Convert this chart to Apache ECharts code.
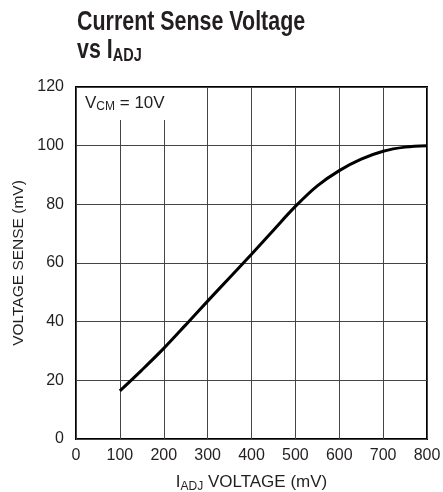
<!DOCTYPE html>
<html><head><meta charset="utf-8">
<script src="https://cdn.jsdelivr.net/npm/echarts@6/dist/echarts.min.js"></script>
<style>html,body{margin:0;padding:0;background:#fff}#c{width:443px;height:492px}</style>
</head><body><div id="c"></div>
<script>
const iadj = [100,150,200,250,300,350,400,450,500,550,600,650,700,750,800];
const vsense = [16.4,23.5,30.9,38.9,47.0,55.0,63.0,71.2,79.3,86.3,91.5,95.4,98.1,99.5,100];
const xTicks = [0,800,100];
const yTicks = [0,120,20];
const FF = '"Liberation Sans",Arial,sans-serif';
const INK = '#231f20';
const chart = echarts.init(document.getElementById('c'), null, {renderer:'canvas'});
chart.setOption({
  animation:false,
  backgroundColor:'#fff',
  grid:{left:76,right:16,top:87,bottom:53,show:true,borderColor:'#000',borderWidth:2,
        containLabel:false,outerBoundsMode:'none'},
  xAxis:{
    type:'value',min:xTicks[0],max:xTicks[1],interval:xTicks[2],
    axisLine:{show:false},axisTick:{show:false},
    splitLine:{lineStyle:{color:'#444',width:1}},
    axisLabel:{fontFamily:FF,fontSize:16,color:INK,margin:9},
    name:'{a|I}{s|ADJ}{a| VOLTAGE (mV)}',nameLocation:'middle',nameGap:33,
    nameTextStyle:{rich:{
      a:{fontFamily:FF,fontSize:17,color:INK},
      s:{fontFamily:FF,fontSize:12,color:INK,padding:[9,0,0,0]}
    }}
  },
  yAxis:{
    type:'value',min:yTicks[0],max:yTicks[1],interval:yTicks[2],
    axisLine:{show:false},axisTick:{show:false},
    splitLine:{lineStyle:{color:'#444',width:1}},
    axisLabel:{fontFamily:FF,fontSize:16,color:INK,margin:12},
    name:'VOLTAGE SENSE (mV)',nameLocation:'middle',nameGap:42,nameRotate:90,
    nameTextStyle:{fontFamily:FF,fontSize:15.5,color:INK}
  },
  graphic:[
    {
      type:'text',x:77,y:8,scaleX:0.765,scaleY:1,z:100,
      style:{
        text:'{a|Current Sense Voltage}\n{a|vs I}{s|ADJ}',
        rich:{
          a:{fontFamily:FF,fontWeight:'bold',fontSize:28,fill:INK,lineHeight:28},
          s:{fontFamily:FF,fontWeight:'bold',fontSize:19,fill:INK,lineHeight:28,padding:[12,0,0,0]}
        }
      }
    },
    {
      type:'rect',z:90,shape:{x:78,y:88,width:93,height:32},style:{fill:'#fff'}
    },
    {
      type:'text',x:85,y:94,z:100,
      style:{
        text:'{a|V}{s|CM}{a| = 10V}',
        rich:{
          a:{fontFamily:FF,fontSize:17,fill:INK},
          s:{fontFamily:FF,fontSize:12,fill:INK,padding:[7,0,0,0]}
        }
      }
    }
  ],
  series:[{
    type:'line',data:iadj.map((x,i)=>[x,vsense[i]]),
    smooth:0.35,showSymbol:false,
    lineStyle:{color:'#000',width:3}
  }]
});
</script></body></html>
